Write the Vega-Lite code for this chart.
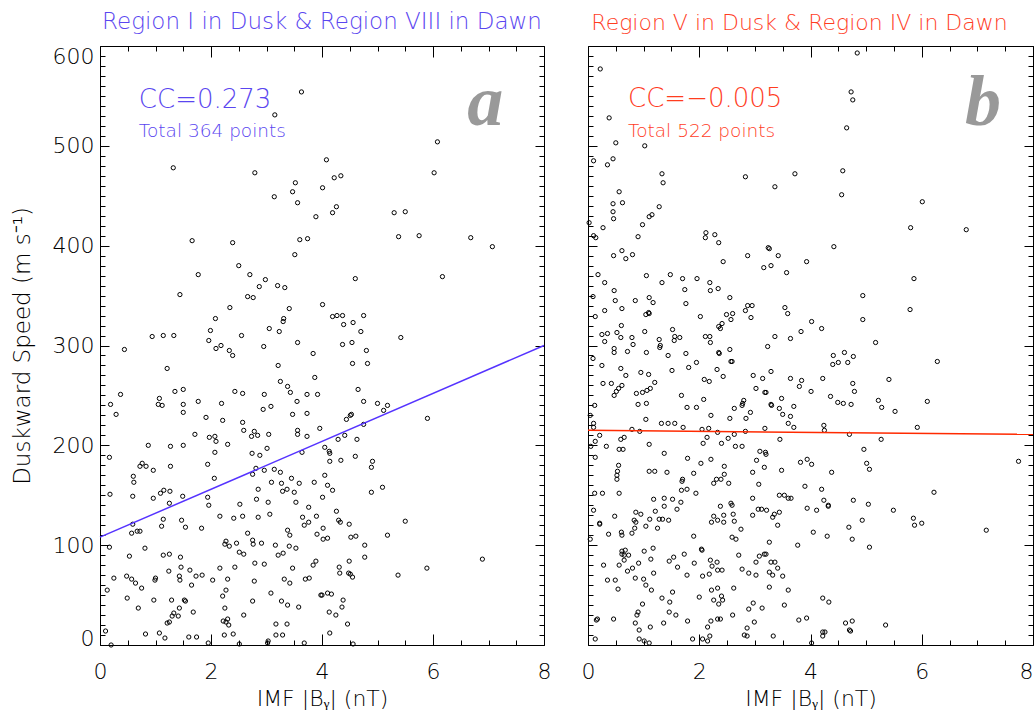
{
  "$schema": "https://vega.github.io/schema/vega-lite/v6.json",
  "padding": {"left": 10, "top": 10, "right": 0, "bottom": 0},
  "spacing": 28,
  "config": {
    "font": "DejaVu Sans",
    "view": {"stroke": "black", "strokeWidth": 1},
    "axis": {"grid": false, "domain": false, "tickColor": "black", "tickWidth": 1, "labelFont": "DejaVu Sans", "labelFontSize": 22, "labelFontWeight": 200, "labelColor": "black", "titleFont": "DejaVu Sans", "titleFontSize": 22, "titleFontWeight": 200, "titleColor": "black", "labelFlush": false, "labelOverlap": false}
  },
  "datasets": {
    "left": [
      {"x":3.63,"y":554},{"x":3.15,"y":531},{"x":1.32,"y":478},{"x":2.79,"y":473},{"x":3.52,"y":463},{"x":3.47,"y":454},{"x":3.14,"y":449},{"x":3.56,"y":443},{"x":3.89,"y":429},{"x":4.01,"y":458},{"x":1.66,"y":405},{"x":2.39,"y":403},{"x":3.60,"y":406},{"x":3.74,"y":407},{"x":3.51,"y":391},{"x":2.50,"y":380},{"x":1.77,"y":371},{"x":2.70,"y":371},{"x":2.98,"y":366},{"x":2.87,"y":359},{"x":3.20,"y":360},{"x":3.33,"y":358},{"x":1.44,"y":351},{"x":2.66,"y":349},{"x":2.76,"y":348},{"x":4.01,"y":341},{"x":2.34,"y":338},{"x":3.41,"y":337},{"x":2.08,"y":327},{"x":3.31,"y":327},{"x":3.30,"y":324},{"x":1.99,"y":315},{"x":3.05,"y":317},{"x":3.23,"y":314},{"x":0.94,"y":309},{"x":1.14,"y":310},{"x":1.33,"y":310},{"x":1.96,"y":305},{"x":2.55,"y":310},{"x":3.56,"y":303},{"x":2.18,"y":300},{"x":2.95,"y":299},
      {"x":0.44,"y":296},{"x":2.09,"y":297},{"x":2.33,"y":295},{"x":2.39,"y":290},{"x":3.84,"y":292},{"x":3.21,"y":280},{"x":1.21,"y":277},{"x":3.87,"y":268},{"x":3.25,"y":264},{"x":3.38,"y":259},{"x":3.43,"y":253},{"x":1.35,"y":254},{"x":1.50,"y":256},{"x":2.43,"y":254},{"x":2.57,"y":252},{"x":2.96,"y":251},{"x":3.73,"y":251},{"x":3.92,"y":251},{"x":0.37,"y":251},{"x":1.07,"y":247},{"x":1.05,"y":241},{"x":1.12,"y":240},{"x":0.19,"y":241},{"x":0.29,"y":231},{"x":1.50,"y":241},{"x":1.50,"y":233},{"x":1.77,"y":244},{"x":2.19,"y":242},{"x":3.55,"y":244},{"x":3.08,"y":239},{"x":2.94,"y":236},{"x":3.47,"y":231},{"x":3.73,"y":232},{"x":1.91,"y":228},{"x":2.21,"y":225},{"x":2.57,"y":223},{"x":2.59,"y":215},{"x":3.96,"y":217},{"x":1.71,"y":211},{"x":1.97,"y":208},{"x":2.07,"y":209},{"x":2.09,"y":204},{"x":2.73,"y":209},{"x":2.78,"y":214},{"x":2.84,"y":210},{"x":3.04,"y":211},{"x":3.56,"y":215},{"x":3.56,"y":211},{"x":3.73,"y":209},{"x":0.87,"y":200},{"x":1.27,"y":199},{"x":1.50,"y":200},{"x":2.30,"y":201},{"x":3.01,"y":197},{"x":2.74,"y":192},{"x":2.88,"y":190},{"x":2.07,"y":193},{"x":3.64,"y":193},{"x":0.17,"y":188},{"x":1.94,"y":181},{"x":0.76,"y":182},{"x":0.72,"y":179},{"x":0.83,"y":179},{"x":0.96,"y":175},{"x":1.27,"y":179},{"x":2.06,"y":167},{"x":2.75,"y":171},{"x":2.81,"y":177},{"x":2.96,"y":175},{"x":3.14,"y":176},{"x":3.25,"y":173},{"x":3.09,"y":163},{"x":3.27,"y":162},{"x":3.45,"y":167},{"x":3.59,"y":162},{"x":3.86,"y":163},{"x":0.60,"y":169},{"x":0.61,"y":163},{"x":0.18,"y":151},{"x":0.59,"y":149},{"x":0.96,"y":147},{"x":1.09,"y":152},{"x":1.15,"y":155},{"x":1.26,"y":154},{"x":1.49,"y":149},{"x":1.25,"y":142},{"x":1.94,"y":148},{"x":1.96,"y":140},{"x":2.85,"y":156},{"x":2.82,"y":146},{"x":3.29,"y":154},{"x":3.37,"y":156},{"x":3.50,"y":153},{"x":3.03,"y":143},{"x":2.52,"y":141},{"x":3.53,"y":143},{"x":3.76,"y":138},{"x":4.01,"y":148},{"x":2.16,"y":129},{"x":2.41,"y":127},{"x":2.57,"y":129},{"x":2.85,"y":128},{"x":3.06,"y":131},{"x":3.65,"y":128},{"x":3.68,"y":120},{"x":3.76,"y":123},{"x":3.90,"y":129},{"x":1.14,"y":126},{"x":1.11,"y":119},{"x":1.47,"y":125},{"x":1.54,"y":118},{"x":1.83,"y":117},{"x":0.59,"y":121},{"x":0.57,"y":112},{"x":0.67,"y":114},{"x":0.72,"y":114},{"x":0.17,"y":98},{"x":0.81,"y":97},{"x":0.53,"y":89},{"x":1.14,"y":90},{"x":1.25,"y":91},{"x":1.45,"y":88},{"x":1.24,"y":74},{"x":1.46,"y":78},{"x":1.43,"y":69},{"x":1.44,"y":65},{"x":1.00,"y":67},{"x":0.99,"y":65},{"x":1.62,"y":75},{"x":1.65,"y":60},{"x":1.73,"y":69},{"x":1.84,"y":70},{"x":2.03,"y":65},{"x":2.16,"y":77},{"x":2.30,"y":66},{"x":2.27,"y":104},{"x":2.25,"y":101},{"x":2.33,"y":99},{"x":2.46,"y":102},{"x":2.51,"y":93},{"x":2.59,"y":91},{"x":2.43,"y":78},{"x":2.66,"y":112},{"x":2.75,"y":105},{"x":2.76,"y":101},{"x":2.91,"y":102},{"x":2.79,"y":82},{"x":2.96,"y":81},{"x":2.78,"y":64},{"x":3.16,"y":100},{"x":3.21,"y":90},{"x":3.30,"y":92},{"x":3.38,"y":115},{"x":3.42,"y":110},{"x":3.41,"y":99},{"x":3.53,"y":97},{"x":3.47,"y":77},{"x":3.84,"y":80},{"x":3.89,"y":84},{"x":3.91,"y":111},{"x":3.32,"y":66},{"x":3.42,"y":62},{"x":3.70,"y":66},{"x":3.77,"y":67},{"x":0.25,"y":67},{"x":0.13,"y":55},{"x":0.48,"y":69},{"x":0.57,"y":66},{"x":0.64,"y":62},{"x":0.75,"y":57},{"x":0.49,"y":47},{"x":0.97,"y":45},{"x":0.69,"y":37},{"x":1.29,"y":45},{"x":1.52,"y":45},{"x":1.54,"y":44},{"x":1.43,"y":37},{"x":1.30,"y":29},{"x":1.33,"y":32},{"x":1.41,"y":29},{"x":1.21,"y":22},{"x":1.25,"y":23},{"x":1.68,"y":33},{"x":2.21,"y":49},{"x":2.27,"y":55},{"x":2.25,"y":37},{"x":2.22,"y":24},{"x":2.30,"y":26},{"x":2.32,"y":20},{"x":2.27,"y":23},{"x":2.59,"y":30},{"x":2.75,"y":44},{"x":3.08,"y":52},{"x":3.27,"y":44},{"x":3.38,"y":40},{"x":3.58,"y":38},{"x":3.98,"y":50},{"x":3.17,"y":21},{"x":3.37,"y":21},{"x":3.17,"y":10},{"x":3.29,"y":10},{"x":0.10,"y":14},{"x":0.82,"y":11},{"x":1.07,"y":12},{"x":1.17,"y":7},{"x":1.60,"y":8},{"x":1.74,"y":8},{"x":2.24,"y":10},{"x":2.40,"y":11},{"x":0.20,"y":0},{"x":1.95,"y":2},{"x":2.51,"y":1},{"x":3.03,"y":4},{"x":3.02,"y":2},{"x":3.68,"y":2},
      {"x":6.08,"y":504},{"x":4.08,"y":486},{"x":4.22,"y":468},{"x":4.34,"y":470},{"x":6.02,"y":473},{"x":4.26,"y":439},{"x":4.19,"y":433},{"x":5.30,"y":433},{"x":5.50,"y":434},{"x":5.38,"y":409},{"x":5.75,"y":410},{"x":6.68,"y":408},{"x":7.07,"y":399},{"x":4.60,"y":367},{"x":6.17,"y":369},{"x":4.19,"y":329},{"x":4.27,"y":330},{"x":4.37,"y":330},{"x":4.75,"y":330},{"x":4.39,"y":321},{"x":4.56,"y":323},{"x":4.70,"y":314},{"x":5.42,"y":308},{"x":4.37,"y":301},{"x":4.54,"y":303},
      {"x":4.80,"y":295},{"x":4.55,"y":282},{"x":4.82,"y":282},{"x":4.65,"y":256},{"x":4.75,"y":244},{"x":5.00,"y":242},{"x":5.11,"y":235},{"x":5.18,"y":240},{"x":4.44,"y":226},{"x":4.51,"y":230},{"x":4.53,"y":231},{"x":4.75,"y":221},{"x":5.90,"y":227},{"x":4.29,"y":206},{"x":4.41,"y":210},{"x":4.63,"y":206},{"x":4.05,"y":198},{"x":4.13,"y":194},{"x":4.14,"y":192},{"x":4.14,"y":184},{"x":4.34,"y":185},{"x":4.60,"y":189},{"x":4.89,"y":178},{"x":4.91,"y":184},{"x":4.05,"y":170},{"x":4.10,"y":160},{"x":4.19,"y":155},{"x":4.89,"y":153},{"x":5.09,"y":158},{"x":4.26,"y":134},{"x":4.30,"y":125},{"x":4.33,"y":123},{"x":4.49,"y":121},{"x":5.50,"y":124},{"x":4.02,"y":117},{"x":4.02,"y":106},{"x":4.10,"y":107},{"x":4.52,"y":108},{"x":4.61,"y":109},{"x":5.18,"y":110},{"x":4.77,"y":100},{"x":4.77,"y":88},{"x":6.89,"y":86},{"x":4.49,"y":84},{"x":4.31,"y":78},{"x":4.32,"y":72},{"x":4.48,"y":72},{"x":4.51,"y":71},{"x":4.55,"y":68},{"x":5.37,"y":70},{"x":5.89,"y":77},{"x":4.00,"y":50},{"x":4.10,"y":52},{"x":4.17,"y":51},{"x":4.38,"y":45},{"x":4.36,"y":38},{"x":4.13,"y":33},{"x":4.25,"y":30},{"x":4.46,"y":21},{"x":4.14,"y":12},{"x":4.56,"y":1}
    ],
    "right": [
      {"x":0.22,"y":577},{"x":0.38,"y":528},{"x":0.50,"y":503},{"x":1.02,"y":500},{"x":0.10,"y":485},{"x":0.35,"y":481},{"x":0.45,"y":487},{"x":2.83,"y":469},{"x":3.72,"y":472},{"x":1.33,"y":472},{"x":1.35,"y":463},{"x":3.36,"y":459},{"x":0.56,"y":454},{"x":0.45,"y":442},{"x":0.62,"y":443},{"x":0.45,"y":434},{"x":0.46,"y":427},{"x":1.28,"y":439},{"x":1.10,"y":429},{"x":1.15,"y":431},{"x":0.02,"y":423},{"x":0.27,"y":418},{"x":0.98,"y":421},{"x":0.10,"y":410},{"x":0.14,"y":408},{"x":0.90,"y":409},{"x":2.12,"y":413},{"x":2.11,"y":408},{"x":2.28,"y":411},{"x":2.35,"y":403},{"x":3.24,"y":398},{"x":3.26,"y":397},{"x":2.87,"y":390},{"x":3.42,"y":390},{"x":3.93,"y":384},{"x":2.43,"y":384},{"x":0.61,"y":395},{"x":0.46,"y":390},{"x":0.68,"y":387},{"x":0.80,"y":391},{"x":3.16,"y":378},{"x":3.29,"y":380},{"x":3.57,"y":373},{"x":0.18,"y":371},{"x":1.05,"y":370},{"x":1.48,"y":371},{"x":1.70,"y":367},{"x":1.96,"y":367},{"x":0.30,"y":363},{"x":1.33,"y":363},{"x":2.19,"y":363},{"x":2.20,"y":355},{"x":1.74,"y":356},{"x":2.34,"y":357},{"x":0.47,"y":355},{"x":0.09,"y":349},{"x":0.49,"y":345},{"x":0.85,"y":345},{"x":1.10,"y":348},{"x":1.17,"y":343},{"x":1.76,"y":342},{"x":2.55,"y":348},{"x":2.83,"y":335},{"x":2.87,"y":340},{"x":2.95,"y":340},{"x":2.93,"y":328},{"x":3.54,"y":338},{"x":3.59,"y":332},{"x":0.61,"y":337},{"x":0.30,"y":335},{"x":0.13,"y":329},{"x":1.04,"y":331},{"x":1.09,"y":333},{"x":1.10,"y":332},{"x":2.02,"y":329},{"x":2.49,"y":331},{"x":2.57,"y":326},{"x":2.60,"y":332},{"x":2.35,"y":319},{"x":2.41,"y":322},{"x":2.38,"y":317},{"x":0.60,"y":320},{"x":0.25,"y":311},{"x":0.35,"y":312},{"x":0.30,"y":304},{"x":0.52,"y":313},{"x":0.59,"y":308},{"x":0.79,"y":308},{"x":0.81,"y":301},{"x":1.02,"y":314},{"x":1.52,"y":316},{"x":1.28,"y":306},{"x":1.56,"y":309},{"x":1.55,"y":305},{"x":1.65,"y":308},{"x":2.11,"y":309},{"x":2.19,"y":309},{"x":2.20,"y":303},{"x":3.36,"y":309},{"x":3.64,"y":307},{"x":3.83,"y":314},{"x":3.23,"y":299},{"x":1.30,"y":300},
      {"x":4.84,"y":593},{"x":4.73,"y":554},{"x":4.76,"y":546},{"x":4.65,"y":518},{"x":4.58,"y":475},{"x":4.56,"y":451},{"x":6.01,"y":444},{"x":5.80,"y":418},{"x":6.80,"y":416},{"x":4.42,"y":399},{"x":5.86,"y":367},{"x":4.94,"y":350},{"x":5.79,"y":336},{"x":4.94,"y":326},{"x":4.02,"y":324},{"x":4.20,"y":317},{"x":5.17,"y":303},
      {"x":0.47,"y":297},{"x":0.47,"y":293},{"x":0.71,"y":294},{"x":1.05,"y":293},{"x":1.29,"y":298},{"x":1.76,"y":292},{"x":2.35,"y":293},{"x":2.36,"y":292},{"x":2.55,"y":296},{"x":0.09,"y":287},{"x":0.25,"y":280},{"x":0.59,"y":277},{"x":0.68,"y":270},{"x":0.95,"y":273},{"x":1.09,"y":271},{"x":1.44,"y":290},{"x":1.51,"y":275},{"x":1.81,"y":278},{"x":1.95,"y":283},{"x":2.32,"y":276},{"x":2.57,"y":284},{"x":2.59,"y":284},{"x":2.43,"y":269},{"x":2.09,"y":266},{"x":2.18,"y":264},{"x":2.97,"y":270},{"x":3.14,"y":267},{"x":3.29,"y":274},{"x":3.64,"y":267},{"x":3.84,"y":265},{"x":3.80,"y":259},{"x":0.27,"y":262},{"x":0.42,"y":262},{"x":0.47,"y":250},{"x":0.51,"y":254},{"x":0.55,"y":257},{"x":0.61,"y":260},{"x":0.87,"y":252},{"x":0.98,"y":253},{"x":1.06,"y":255},{"x":1.12,"y":257},{"x":1.20,"y":263},{"x":1.68,"y":250},{"x":2.08,"y":246},{"x":3.02,"y":257},{"x":3.18,"y":253},{"x":3.20,"y":253},{"x":2.80,"y":245},{"x":2.78,"y":242},{"x":2.77,"y":240},{"x":2.92,"y":233},{"x":2.63,"y":237},{"x":2.84,"y":227},{"x":2.55,"y":227},{"x":3.48,"y":247},{"x":3.29,"y":241},{"x":3.30,"y":240},{"x":3.44,"y":237},{"x":3.70,"y":239},{"x":3.50,"y":231},{"x":3.64,"y":229},{"x":3.60,"y":222},{"x":3.70,"y":218},{"x":0.12,"y":240},{"x":0.04,"y":230},{"x":0.90,"y":241},{"x":1.05,"y":242},{"x":1.04,"y":226},{"x":1.78,"y":238},{"x":1.95,"y":238},{"x":2.21,"y":230},{"x":0.10,"y":222},{"x":0.10,"y":218},{"x":1.32,"y":222},{"x":1.44,"y":222},{"x":1.56,"y":222},{"x":1.71,"y":218},{"x":0.79,"y":216},{"x":0.93,"y":214},{"x":2.05,"y":216},{"x":2.17,"y":217},{"x":2.33,"y":213},{"x":2.63,"y":211},{"x":2.83,"y":214},{"x":3.18,"y":217},{"x":0.21,"y":210},{"x":0.13,"y":204},{"x":0.05,"y":199},{"x":0.13,"y":188},{"x":0.33,"y":199},{"x":0.59,"y":206},{"x":0.65,"y":208},{"x":0.56,"y":196},{"x":0.63,"y":196},{"x":1.10,"y":201},{"x":1.37,"y":192},{"x":2.07,"y":202},{"x":2.14,"y":208},{"x":2.40,"y":202},{"x":2.52,"y":207},{"x":2.65,"y":199},{"x":2.77,"y":199},{"x":3.09,"y":194},{"x":3.20,"y":191},{"x":3.19,"y":193},{"x":3.45,"y":206},{"x":1.79,"y":187},{"x":2.03,"y":182},{"x":2.21,"y":186},{"x":3.03,"y":185},{"x":3.17,"y":178},{"x":2.96,"y":173},{"x":3.48,"y":175},{"x":3.82,"y":183},{"x":3.94,"y":186},{"x":0.55,"y":180},{"x":0.53,"y":174},{"x":0.52,"y":170},{"x":0.52,"y":166},{"x":1.10,"y":174},{"x":1.20,"y":174},{"x":1.42,"y":173},{"x":1.90,"y":172},{"x":2.45,"y":179},{"x":2.45,"y":171},{"x":1.70,"y":166},{"x":1.69,"y":164},{"x":2.31,"y":166},{"x":2.39,"y":166},{"x":2.26,"y":162},{"x":2.53,"y":162},{"x":3.07,"y":161},{"x":0.12,"y":152},{"x":0.26,"y":152},{"x":0.56,"y":152},{"x":1.68,"y":155},{"x":1.78,"y":156},{"x":1.94,"y":152},{"x":3.44,"y":150},{"x":3.53,"y":150},{"x":3.60,"y":147},{"x":3.65,"y":147},{"x":3.90,"y":159},{"x":3.94,"y":137},{"x":1.18,"y":146},{"x":1.37,"y":147},{"x":1.37,"y":139},{"x":1.52,"y":146},{"x":1.67,"y":143},{"x":1.60,"y":136},{"x":1.21,"y":134},{"x":2.38,"y":139},{"x":2.57,"y":142},{"x":2.59,"y":140},{"x":2.61,"y":131},{"x":2.96,"y":147},{"x":3.06,"y":136},{"x":3.12,"y":136},{"x":3.21,"y":135},{"x":3.44,"y":133},{"x":3.35,"y":131},{"x":3.32,"y":128},{"x":2.96,"y":130},{"x":0.10,"y":135},{"x":0.48,"y":129},{"x":0.86,"y":133},{"x":0.95,"y":131},{"x":0.83,"y":125},{"x":0.86,"y":123},{"x":0.84,"y":117},{"x":0.79,"y":112},{"x":1.04,"y":119},{"x":1.11,"y":126},{"x":1.28,"y":126},{"x":1.34,"y":126},{"x":1.45,"y":125},{"x":1.25,"y":117},{"x":0.21,"y":122},{"x":0.21,"y":121},{"x":0.37,"y":111},{"x":0.60,"y":113},{"x":0.61,"y":110},{"x":0.04,"y":106},{"x":2.22,"y":123},{"x":2.26,"y":129},{"x":2.33,"y":125},{"x":2.44,"y":130},{"x":2.44,"y":123},{"x":2.63,"y":124},{"x":2.75,"y":116},{"x":2.59,"y":108},{"x":2.66,"y":106},{"x":1.90,"y":109},{"x":3.26,"y":103},{"x":3.41,"y":120},{"x":3.77,"y":100},{"x":0.61,"y":94},{"x":0.67,"y":95},{"x":0.61,"y":91},{"x":0.65,"y":90},{"x":1.17,"y":97},{"x":1.01,"y":94},{"x":1.73,"y":91},{"x":2.04,"y":96},{"x":2.05,"y":95},{"x":2.71,"y":90},{"x":3.08,"y":89},{"x":3.17,"y":91},{"x":3.20,"y":91},{"x":0.73,"y":90},{"x":0.28,"y":80},{"x":0.56,"y":80},{"x":0.65,"y":85},{"x":0.91,"y":82},{"x":1.13,"y":86},{"x":0.71,"y":74},{"x":0.80,"y":77},{"x":1.54,"y":88},{"x":1.46,"y":84},{"x":1.61,"y":78},{"x":1.91,"y":82},{"x":2.20,"y":85},{"x":2.23,"y":79},{"x":2.32,"y":83},{"x":2.33,"y":75},{"x":2.41,"y":75},{"x":2.06,"y":69},{"x":2.18,"y":71},{"x":1.78,"y":70},{"x":1.18,"y":72},{"x":2.77,"y":76},{"x":2.89,"y":72},{"x":3.02,"y":70},{"x":3.02,"y":83},{"x":3.26,"y":73},{"x":3.32,"y":70},{"x":3.29,"y":83},{"x":3.36,"y":83},{"x":3.41,"y":77},{"x":3.50,"y":69},{"x":0.35,"y":65},{"x":0.49,"y":65},{"x":0.54,"y":56},{"x":0.85,"y":67},{"x":1.00,"y":66},{"x":1.04,"y":60},{"x":1.14,"y":55},{"x":0.98,"y":41},{"x":0.90,"y":33},{"x":0.88,"y":30},{"x":1.33,"y":47},{"x":1.47,"y":43},{"x":1.52,"y":53},{"x":1.46,"y":33},{"x":1.58,"y":30},{"x":1.36,"y":22},{"x":0.85,"y":22},{"x":0.92,"y":15},{"x":1.12,"y":18},{"x":2.00,"y":48},{"x":2.22,"y":55},{"x":2.33,"y":57},{"x":2.26,"y":45},{"x":2.40,"y":49},{"x":2.42,"y":45},{"x":2.35,"y":41},{"x":2.62,"y":57},{"x":2.60,"y":30},{"x":1.79,"y":24},{"x":2.21,"y":24},{"x":2.33,"y":26},{"x":2.38,"y":26},{"x":2.15,"y":18},{"x":2.89,"y":36},{"x":2.97,"y":42},{"x":3.13,"y":37},{"x":3.26,"y":58},{"x":3.60,"y":55},{"x":3.53,"y":40},{"x":2.99,"y":23},{"x":2.86,"y":17},{"x":2.81,"y":10},{"x":2.86,"y":9},{"x":3.79,"y":25},{"x":3.93,"y":27},{"x":3.33,"y":9},{"x":0.15,"y":25},{"x":0.17,"y":26},{"x":0.46,"y":26},{"x":0.13,"y":6},{"x":0.92,"y":6},{"x":1.10,"y":2},{"x":1.01,"y":4},{"x":1.88,"y":6},{"x":2.06,"y":6},{"x":2.15,"y":4},{"x":2.19,"y":9},
      {"x":4.41,"y":290},{"x":4.40,"y":281},{"x":4.50,"y":283},{"x":4.61,"y":293},{"x":4.77,"y":289},{"x":4.67,"y":283},{"x":6.28,"y":284},{"x":4.22,"y":267},{"x":5.41,"y":266},{"x":4.76,"y":262},{"x":4.79,"y":254},{"x":4.01,"y":254},{"x":4.36,"y":249},{"x":4.49,"y":243},{"x":4.59,"y":242},{"x":4.73,"y":241},{"x":5.22,"y":245},{"x":5.28,"y":238},{"x":5.52,"y":234},{"x":6.10,"y":244},{"x":4.24,"y":220},{"x":4.25,"y":215},{"x":4.70,"y":211},{"x":5.27,"y":206},{"x":5.92,"y":218},{"x":4.96,"y":196},{"x":4.02,"y":181},{"x":5.01,"y":182},{"x":5.06,"y":176},{"x":4.38,"y":173},{"x":7.74,"y":184},{"x":4.20,"y":156},{"x":6.22,"y":153},{"x":4.24,"y":145},{"x":4.32,"y":140},{"x":4.32,"y":139},{"x":4.77,"y":145},{"x":5.04,"y":141},{"x":4.11,"y":135},{"x":5.49,"y":135},{"x":4.93,"y":125},{"x":5.85,"y":127},{"x":5.87,"y":120},{"x":6.00,"y":122},{"x":4.69,"y":118},{"x":4.05,"y":113},{"x":4.30,"y":109},{"x":4.75,"y":106},{"x":5.06,"y":98},{"x":7.16,"y":115},{"x":4.22,"y":47},{"x":4.33,"y":43},{"x":4.63,"y":22},{"x":4.75,"y":24},{"x":4.70,"y":15},{"x":4.72,"y":14},{"x":5.35,"y":20},{"x":4.22,"y":13},{"x":4.26,"y":13},{"x":4.22,"y":9},{"x":4.02,"y":2}
    ]
  },
  "hconcat": [
    {
      "width": 444,
      "height": 599,
      "title": {"text": "Region I in Dusk & Region VIII in Dawn", "color": "#5a46f0", "fontSize": 23, "font": "DejaVu Sans", "fontWeight": 200, "offset": 11},
      "layer": [
        {
          "data": {"name": "left"},
          "mark": {"type": "point", "shape": "circle", "filled": false, "color": "black", "size": 18, "strokeWidth": 1, "opacity": 1},
          "encoding": {
            "x": {"field": "x", "type": "quantitative", "scale": {"domain": [0, 8], "nice": false, "zero": false}, "axis": {"orient": "bottom", "values": [0, 2, 4, 6, 8], "tickSize": -11, "labelPadding": 27, "format": "d", "title": "IMF |Bᵧ| (nT)", "titlePadding": 6}},
            "y": {"field": "y", "type": "quantitative", "scale": {"domain": [0, 600], "nice": false}, "axis": {"orient": "left", "values": [0, 100, 200, 300, 400, 500, 600], "tickSize": -9, "labelPadding": 15, "format": "d", "labelBaseline": {"condition": [{"test": "datum.value == 600", "value": "top"}, {"test": "datum.value == 0", "value": "alphabetic"}], "value": "middle"}, "title": "Duskward Speed (m s⁻¹)", "titleFontSize": 23, "titlePadding": 18}}
          }
        },
        {
          "data": {"values": [{"x": 0, "y": 108}, {"x": 8, "y": 300}]},
          "mark": {"type": "line", "color": "#5533ff", "strokeWidth": 1.5},
          "encoding": {
            "x": {"field": "x", "type": "quantitative", "scale": {"domain": [0, 8], "nice": false, "zero": false}, "axis": {"orient": "top", "values": [0, 2, 4, 6, 8], "tickSize": -11, "labels": false, "title": null}},
            "y": {"field": "y", "type": "quantitative", "scale": {"domain": [0, 600], "nice": false}, "axis": {"orient": "right", "values": [0, 100, 200, 300, 400, 500, 600], "tickSize": -9, "labels": false, "title": null}}
          }
        },
        {
          "data": {"values": [{}]},
          "mark": {"type": "text", "align": "left", "baseline": "alphabetic", "fontSize": 26, "font": "DejaVu Sans", "fontWeight": 200, "color": "#5a46f0"},
          "encoding": {
            "x": {"datum": 0.7, "type": "quantitative", "scale": {"domain": [0, 8], "nice": false, "zero": false}, "axis": {"orient": "bottom", "values": [0.5, 1, 1.5, 2.5, 3, 3.5, 4.5, 5, 5.5, 6.5, 7, 7.5], "tickSize": -5, "labels": false, "title": null}},
            "y": {"datum": 538, "type": "quantitative", "scale": {"domain": [0, 600], "nice": false}, "axis": {"orient": "left", "values": [10,20,30,40,50,60,70,80,90,110,120,130,140,150,160,170,180,190,210,220,230,240,250,260,270,280,290,310,320,330,340,350,360,370,380,390,410,420,430,440,450,460,470,480,490,510,520,530,540,550,560,570,580,590], "tickSize": -5, "labels": false, "title": null}},
            "text": {"value": "CC=0.273"}
          }
        },
        {
          "data": {"values": [{}]},
          "mark": {"type": "text", "align": "left", "baseline": "alphabetic", "fontSize": 18.5, "font": "DejaVu Sans", "fontWeight": 200, "color": "#5a46f0"},
          "encoding": {
            "x": {"datum": 0.7, "type": "quantitative", "scale": {"domain": [0, 8], "nice": false, "zero": false}, "axis": {"orient": "top", "values": [0.5, 1, 1.5, 2.5, 3, 3.5, 4.5, 5, 5.5, 6.5, 7, 7.5], "tickSize": -5, "labels": false, "title": null}},
            "y": {"datum": 509, "type": "quantitative", "scale": {"domain": [0, 600], "nice": false}, "axis": {"orient": "right", "values": [10,20,30,40,50,60,70,80,90,110,120,130,140,150,160,170,180,190,210,220,230,240,250,260,270,280,290,310,320,330,340,350,360,370,380,390,410,420,430,440,450,460,470,480,490,510,520,530,540,550,560,570,580,590], "tickSize": -5, "labels": false, "title": null}},
            "text": {"value": "Total 364 points"}
          }
        },
        {
          "data": {"values": [{}]},
          "mark": {"type": "text", "align": "center", "baseline": "alphabetic", "fontSize": 72, "font": "Liberation Serif", "fontStyle": "italic", "fontWeight": "bold", "color": "#999999"},
          "encoding": {
            "x": {"datum": 6.94, "type": "quantitative", "scale": {"domain": [0, 8], "nice": false, "zero": false}, "axis": null},
            "y": {"datum": 521, "type": "quantitative", "scale": {"domain": [0, 600], "nice": false}, "axis": null},
            "text": {"value": "a"}
          }
        }
      ],
      "resolve": {"axis": {"x": "independent", "y": "independent"}}
    },
    {
      "width": 445,
      "height": 599,
      "title": {"text": "Region V in Dusk & Region IV in Dawn", "color": "#ff3d1f", "fontSize": 22, "font": "DejaVu Sans", "fontWeight": 200, "offset": 11, "dx": -11},
      "layer": [
        {
          "data": {"name": "right"},
          "mark": {"type": "point", "shape": "circle", "filled": false, "color": "black", "size": 18, "strokeWidth": 1, "opacity": 1},
          "encoding": {
            "x": {"field": "x", "type": "quantitative", "scale": {"domain": [0, 8], "nice": false, "zero": false}, "axis": {"orient": "bottom", "values": [0, 2, 4, 6, 8], "tickSize": -11, "labelPadding": 27, "format": "d", "labelAlign": {"condition": {"test": "datum.value == 8", "value": "right"}, "value": "center"}, "title": "IMF |Bᵧ| (nT)", "titlePadding": 6}},
            "y": {"field": "y", "type": "quantitative", "scale": {"domain": [0, 600], "nice": false}, "axis": {"orient": "left", "values": [0, 100, 200, 300, 400, 500, 600], "tickSize": -9, "labels": false, "title": null}}
          }
        },
        {
          "data": {"values": [{"x": 0, "y": 215}, {"x": 8, "y": 211}]},
          "mark": {"type": "line", "color": "#ff2a00", "strokeWidth": 1.5},
          "encoding": {
            "x": {"field": "x", "type": "quantitative", "scale": {"domain": [0, 8], "nice": false, "zero": false}, "axis": {"orient": "top", "values": [0, 2, 4, 6, 8], "tickSize": -11, "labels": false, "title": null}},
            "y": {"field": "y", "type": "quantitative", "scale": {"domain": [0, 600], "nice": false}, "axis": {"orient": "right", "values": [0, 100, 200, 300, 400, 500, 600], "tickSize": -9, "labels": false, "title": null}}
          }
        },
        {
          "data": {"values": [{}]},
          "mark": {"type": "text", "align": "left", "baseline": "alphabetic", "fontSize": 26, "font": "DejaVu Sans", "fontWeight": 200, "color": "#ff3d1f"},
          "encoding": {
            "x": {"datum": 0.72, "type": "quantitative", "scale": {"domain": [0, 8], "nice": false, "zero": false}, "axis": {"orient": "bottom", "values": [0.5, 1, 1.5, 2.5, 3, 3.5, 4.5, 5, 5.5, 6.5, 7, 7.5], "tickSize": -5, "labels": false, "title": null}},
            "y": {"datum": 539, "type": "quantitative", "scale": {"domain": [0, 600], "nice": false}, "axis": {"orient": "left", "values": [10,20,30,40,50,60,70,80,90,110,120,130,140,150,160,170,180,190,210,220,230,240,250,260,270,280,290,310,320,330,340,350,360,370,380,390,410,420,430,440,450,460,470,480,490,510,520,530,540,550,560,570,580,590], "tickSize": -5, "labels": false, "title": null}},
            "text": {"value": "CC=−0.005"}
          }
        },
        {
          "data": {"values": [{}]},
          "mark": {"type": "text", "align": "left", "baseline": "alphabetic", "fontSize": 18.5, "font": "DejaVu Sans", "fontWeight": 200, "color": "#ff3d1f"},
          "encoding": {
            "x": {"datum": 0.72, "type": "quantitative", "scale": {"domain": [0, 8], "nice": false, "zero": false}, "axis": {"orient": "top", "values": [0.5, 1, 1.5, 2.5, 3, 3.5, 4.5, 5, 5.5, 6.5, 7, 7.5], "tickSize": -5, "labels": false, "title": null}},
            "y": {"datum": 509, "type": "quantitative", "scale": {"domain": [0, 600], "nice": false}, "axis": {"orient": "right", "values": [10,20,30,40,50,60,70,80,90,110,120,130,140,150,160,170,180,190,210,220,230,240,250,260,270,280,290,310,320,330,340,350,360,370,380,390,410,420,430,440,450,460,470,480,490,510,520,530,540,550,560,570,580,590], "tickSize": -5, "labels": false, "title": null}},
            "text": {"value": "Total 522 points"}
          }
        },
        {
          "data": {"values": [{}]},
          "mark": {"type": "text", "align": "center", "baseline": "alphabetic", "fontSize": 72, "font": "Liberation Serif", "fontStyle": "italic", "fontWeight": "bold", "color": "#999999"},
          "encoding": {
            "x": {"datum": 7.1, "type": "quantitative", "scale": {"domain": [0, 8], "nice": false, "zero": false}, "axis": null},
            "y": {"datum": 521, "type": "quantitative", "scale": {"domain": [0, 600], "nice": false}, "axis": null},
            "text": {"value": "b"}
          }
        }
      ],
      "resolve": {"axis": {"x": "independent", "y": "independent"}}
    }
  ]
}
